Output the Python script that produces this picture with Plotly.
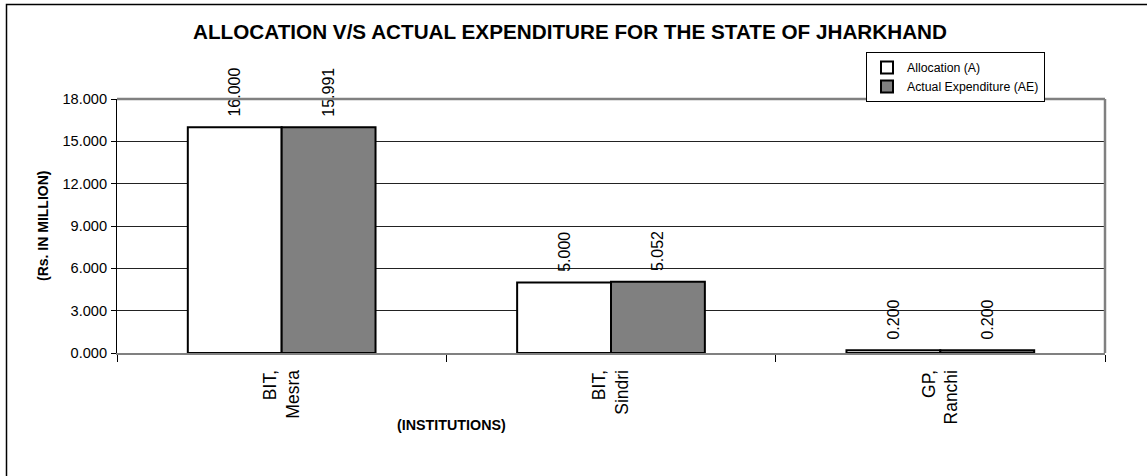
import plotly.graph_objects as go

categories = ["BIT,<br>Mesra", "BIT,<br>Sindri", "GP,<br>Ranchi"]
allocation = [16.000, 5.000, 0.200]
actual = [15.991, 5.052, 0.200]
series_names = ["Allocation (A)", "Actual Expenditure (AE)"]
y_ticks = [0, 3, 6, 9, 12, 15, 18]

FONT = "Liberation Sans, Arial, sans-serif"

W, H = 1147, 476
L, R, T, B = 117, 1105, 99, 353
pw, ph = R - L, B - T

def px(x):
    return (x - L) / pw

def py(y):
    return (B - y) / ph

LABEL_PAD = "\u00a0\u2009"

fig = go.Figure()
fig.add_trace(go.Bar(
    x=categories, y=allocation, name=series_names[0],
    marker=dict(color="white", line=dict(color="black", width=2)),
    text=[LABEL_PAD + f"{v:.3f}" for v in allocation], textposition="outside",
    textangle=-90, textfont=dict(family=FONT, size=16, color="black"),
    cliponaxis=False, constraintext="none",
))
fig.add_trace(go.Bar(
    x=categories, y=actual, name=series_names[1],
    marker=dict(color="#808080", line=dict(color="black", width=2)),
    text=[LABEL_PAD + f"{v:.3f}" for v in actual], textposition="outside",
    textangle=-90, textfont=dict(family=FONT, size=16, color="black"),
    cliponaxis=False, constraintext="none",
))

fig.update_layout(
    width=W, height=H,
    margin=dict(l=L, r=W - R, t=T, b=H - B, pad=0),
    paper_bgcolor="white", plot_bgcolor="white",
    barmode="group", bargap=0.43, bargroupgap=0,
    font=dict(family=FONT, color="black"),
    title=dict(
        text="<b>ALLOCATION V/S ACTUAL EXPENDITURE FOR THE STATE OF JHARKHAND</b>",
        font=dict(family=FONT, size=20.7, color="black"),
        x=570 / W, xanchor="center", y=1 - 32 / H, yanchor="middle",
    ),
    legend=dict(
        x=px(866), y=py(52), xanchor="left", yanchor="top",
        bordercolor="black", borderwidth=1, bgcolor="white",
        font=dict(family=FONT, size=12.3, color="black"),
        tracegroupgap=0, itemwidth=30,
    ),
    showlegend=True,
)

fig.update_xaxes(
    type="category",
    tickangle=-90, tickfont=dict(family=FONT, size=17.5, color="black"),
    ticklabelstandoff=8,
    showline=True, linecolor="#808080", linewidth=2,
    ticks="outside", tickson="boundaries", ticklen=7, tickcolor="black",
    showgrid=False, zeroline=False,
)
fig.update_yaxes(
    range=[0, 18], tickvals=y_ticks, tickformat=".3f",
    tickfont=dict(family=FONT, size=14.6, color="black"),
    ticklabelstandoff=1,
    showline=True, linecolor="black", linewidth=1,
    ticks="outside", ticklen=5, tickcolor="black",
    showgrid=True, gridcolor="#222222", gridwidth=1,
    zeroline=False,
)

# plot-area frame (top, right in gray)
fig.add_shape(type="line", xref="paper", yref="paper", x0=0, x1=1, y0=1, y1=1,
              line=dict(color="#808080", width=2.5), layer="above")
fig.add_shape(type="line", xref="paper", yref="paper", x0=1, x1=1, y0=0, y1=1,
              line=dict(color="#808080", width=2.5), layer="above")

# outer chart border
fig.add_shape(type="rect", xref="paper", yref="paper",
              x0=px(6.5), x1=px(1170), y0=py(500), y1=py(4.5),
              line=dict(color="black", width=1.5), fillcolor="rgba(0,0,0,0)",
              layer="above")

fig.add_annotation(
    text="<b>(Rs. IN MILLION)</b>", xref="paper", yref="paper",
    x=px(43), y=py(226), textangle=-90, showarrow=False,
    font=dict(family=FONT, size=14, color="black"),
    xanchor="center", yanchor="middle",
)
fig.add_annotation(
    text="<b>(INSTITUTIONS)</b>", xref="paper", yref="paper",
    x=px(451), y=py(425), showarrow=False,
    font=dict(family=FONT, size=14.3, color="black"),
    xanchor="center", yanchor="middle",
)

fig.write_html("out.html", config={"displayModeBar": False},
               post_script="document.body.style.margin='0';")
